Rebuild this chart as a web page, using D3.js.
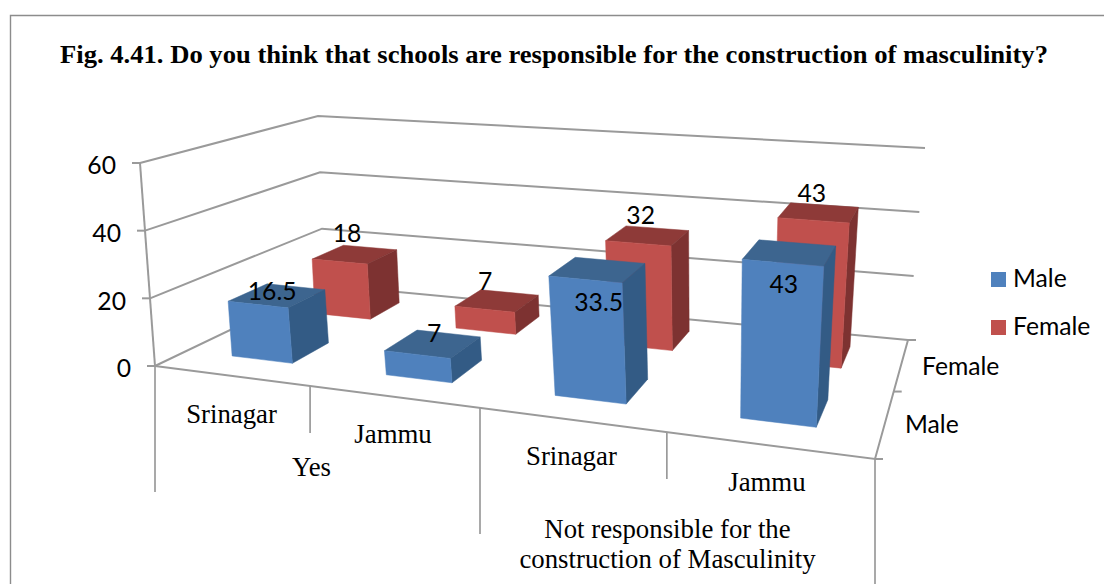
<!DOCTYPE html>
<html>
<head>
<meta charset="utf-8">
<script src="https://cdn.jsdelivr.net/npm/d3@7"></script>
<style>
html,body{margin:0;padding:0;background:#fff;overflow:hidden}
svg{display:block}
.serif{font-family:"Liberation Serif",serif;fill:#000}
.sans{font-family:Lato,"Open Sans",sans-serif;fill:#000}
</style>
</head>
<body>
<div id="chart"></div>
<script>
const title = "Fig. 4.41. Do you think that schools are responsible for the construction of masculinity?";
const groups = ["Yes", "Not responsible for the|construction of Masculinity"];
const categories = ["Srinagar", "Jammu", "Srinagar", "Jammu"];
const seriesNames = ["Male", "Female"];
const maleValues = [16.5, 7, 33.5, 43];
const femaleValues = [18, 7, 32, 43];
const valueTicks = [0, 20, 40, 60];

const W = 1104, H = 584;
const svg = d3.select("#chart").append("svg").attr("width", W).attr("height", H);

const colors = {
  Male:   {front:"#4F81BD", side:"#335B85", top:"#3D658F"},
  Female: {front:"#C0504D", side:"#7D3231", top:"#8E3A38"}
};
const gridColor = "#9a9a9a";

// ---- perspective view box: floor and ceiling planes, calibrated on the box corners
function solve(A, b){
  const n = b.length, M = A.map((r,i)=>[...r,b[i]]);
  for(let c=0;c<n;c++){
    let p=c; for(let r=c+1;r<n;r++) if(Math.abs(M[r][c])>Math.abs(M[p][c])) p=r;
    [M[c],M[p]]=[M[p],M[c]];
    for(let r=0;r<n;r++){ if(r===c) continue;
      const f=M[r][c]/M[c][c];
      for(let k=c;k<=n;k++) M[r][k]-=f*M[c][k];
    }
  }
  return M.map((r,i)=>r[n]/r[i]);
}
function homography(corners){ // [[u,w,x,y]...]
  const A=[],b=[];
  corners.forEach(([u,w,x,y])=>{
    A.push([u,w,1,0,0,0,-u*x,-w*x]); b.push(x);
    A.push([0,0,0,u,w,1,-u*y,-w*y]); b.push(y);
  });
  const h=solve(A,b);
  return (u,w)=>{
    const d=h[6]*u+h[7]*w+1;
    return [(h[0]*u+h[1]*w+h[2])/d,(h[3]*u+h[4]*w+h[5])/d];
  };
}
const floorPlane = homography([[0,0,155,366],[1,0,875,459],[1,1,908,340],[0,1,324,285]]);
const topPlane   = homography([[0,0,140,163],[1,0,894,224],[1,1,925,148],[0,1,318,116]]);
function project(u,w,h){
  const a=floorPlane(u,w), b=topPlane(u,w);
  return [a[0]+(b[0]-a[0])*h, a[1]+(b[1]-a[1])*h];
}

// ---- scales
const frontTickX = [310,480,667];  // where the category dividers meet the front edge
const uEdges = [0,...frontTickX.map(x=>{
  const f=d3.bisector(u=>project(u,0,0)[0]);
  const g=d3.range(0,1.0001,0.0005);
  return g[f.center(g,x)];
}),1];
const uScale = d3.scaleLinear().domain([0,1,2,3,4]).range(uEdges);
const barStart = [0.308,0.305,0.305,0.305];
const barEnd   = [0.708,0.705,0.70,0.685];
const wBands = {Male:[0.16,0.375],Female:[0.655,0.87]};
const hScale = d3.scaleLinear().domain([0,60]).range([0,1]);
const line = d3.line();

// ---- frame
svg.append("path").attr("d","M10.5,584V15.5H1104")
  .attr("fill","none").attr("stroke","#8c8c8c").attr("stroke-width",1.4);

svg.append("text").attr("class","serif").attr("x",60).attr("y",63)
  .attr("font-weight","bold").attr("font-size",25).attr("textLength",988)
  .attr("lengthAdjust","spacingAndGlyphs").text(title);

// ---- walls & grid
const labelFont = 24.7;
const grid = svg.append("g").attr("fill","none").attr("stroke",gridColor).attr("stroke-width",2);
valueTicks.forEach(v=>{
  const h=hScale(v);
  grid.append("path").attr("d",line([project(0,0,h),project(0,1,h),project(1,1,h)]));
  const p=project(0,0,h);
  grid.append("path").attr("d",line([[p[0]-8,p[1]],p]));
  svg.append("text").attr("class","sans").attr("x",p[0]-24).attr("y",p[1]+5)
    .attr("text-anchor","end").attr("dominant-baseline","middle").attr("font-size",labelFont).text(v);
});
grid.append("path").attr("d",line([project(0,0,hScale(60)),project(0,0,0)]));
// front edge & series axis
grid.append("path").attr("d",line([project(0,0,0),project(1,0,0),project(1,1,0)]));
[0,0.5,1].forEach(w=>{
  const p=project(1,w,0);
  grid.append("path").attr("d",line([p,[p[0]+8,p[1]]]));
});

// ---- category ticks and labels
const edgeTicks = d3.range(0,5).map(i=>project(uScale(i),0,0));
const tickLen = [126,47,126,47,126];
edgeTicks.forEach((p,i)=>{
  grid.append("path").attr("d",line([p,[p[0],p[1]+tickLen[i]]])).attr("stroke-width",1.7);
});
const catLabelDx=[-1,-2,-2,-4];
const catLabelDy=[41,40,39,39];
const serifFont = 26.8;
categories.forEach((c,i)=>{
  const a=edgeTicks[i], b=edgeTicks[i+1];
  svg.append("text").attr("class","serif").attr("text-anchor","middle")
    .attr("x",(a[0]+b[0])/2+catLabelDx[i]).attr("y",(a[1]+b[1])/2+catLabelDy[i])
    .attr("dominant-baseline","middle").attr("font-size",serifFont).text(c);
});
svg.append("text").attr("class","serif").attr("text-anchor","middle")
  .attr("x",(edgeTicks[0][0]+edgeTicks[2][0])/2-6).attr("y",470)
  .attr("dominant-baseline","middle").attr("font-size",serifFont).text(groups[0]);
groups[1].split("|").forEach((t,i)=>{
  svg.append("text").attr("class","serif").attr("text-anchor","middle")
    .attr("x",(edgeTicks[2][0]+edgeTicks[4][0])/2-10).attr("y",532+i*30)
    .attr("dominant-baseline","middle").attr("font-size",serifFont).text(t);
});

// ---- series axis labels
const axisLabelPos = {Female:[922,369],Male:[905,427]};
seriesNames.forEach(s=>{
  svg.append("text").attr("class","sans").attr("x",axisLabelPos[s][0]).attr("y",axisLabelPos[s][1])
    .attr("dominant-baseline","middle").attr("font-size",labelFont).text(s);
});

// ---- bars (back row first)
function bar(g,i,series,val){
  const u0=uScale(i+barStart[i]),u1=uScale(i+barEnd[i]);
  const [w0,w1]=wBands[series];
  const h=hScale(val), c=colors[series];
  const P=project;
  const face=(pts,fill)=>g.append("path").attr("d",line(pts)+"Z").attr("fill",fill).attr("stroke",fill).attr("stroke-width",0.5);
  face([P(u0,w0,h),P(u1,w0,h),P(u1,w1,h),P(u0,w1,h)],c.top);
  face([P(u1,w0,0),P(u1,w1,0),P(u1,w1,h),P(u1,w0,h)],c.side);
  face([P(u0,w0,0),P(u1,w0,0),P(u1,w0,h),P(u0,w0,h)],c.front);
}
const barsG = svg.append("g");
const seriesValues = {Male:maleValues,Female:femaleValues};
["Female","Male"].forEach(s=>{
  categories.forEach((k,i)=>bar(barsG,i,s,seriesValues[s][i]));
});

// ---- data labels anchored to bar tops, with the chart's manual placement offsets
const labelNudge = {
  Male:   [[-5,10],[1,4],[1,47],[-6,46]],
  Female: [[-8,-7],[-12,-5],[-7,-6],[-7,-5]]
};
const labelsG = svg.append("g");
["Female","Male"].forEach(s=>{
  categories.forEach((k,i)=>{
    const u=uScale(i+(barStart[i]+barEnd[i])/2), w=(wBands[s][0]+wBands[s][1])/2;
    const p=project(u,w,hScale(seriesValues[s][i]));
    const n=labelNudge[s][i];
    labelsG.append("text").attr("class","sans").attr("text-anchor","middle")
      .attr("dominant-baseline","middle").attr("x",p[0]+n[0]).attr("y",p[1]-12+n[1])
      .attr("font-size",labelFont).text(seriesValues[s][i]);
  });
});

// ---- legend
const legendY = d3.scalePoint().domain(seriesNames).range([279.5,327.5]);
seriesNames.forEach(s=>{
  svg.append("rect").attr("x",991).attr("y",legendY(s)-7.5).attr("width",15).attr("height",15).attr("fill",colors[s].front);
  svg.append("text").attr("class","sans").attr("x",1013).attr("y",legendY(s)+1)
    .attr("dominant-baseline","middle").attr("font-size",labelFont).text(s);
});
</script>
</body>
</html>
